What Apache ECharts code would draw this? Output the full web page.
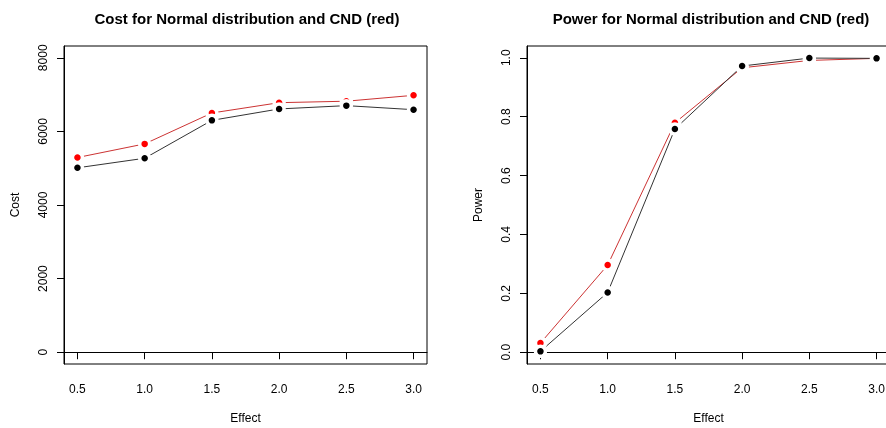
<!DOCTYPE html>
<html>
<head>
<meta charset="utf-8">
<script src="https://cdn.jsdelivr.net/npm/echarts@6/dist/echarts.min.js"></script>
<style>
html,body{margin:0;padding:0;background:#fff;}
#c{width:886px;height:428px;}
</style>
</head>
<body>
<div id="c"></div>
<script>
var effect = [0.5, 1.0, 1.5, 2.0, 2.5, 3.0];
var costNormal = [5010, 5270, 6300, 6610, 6700, 6590];
var costCND = [5290, 5660, 6500, 6780, 6820, 6980];
var powerNormal = [0.003, 0.203, 0.758, 0.972, 0.999, 0.998];
var powerCND = [0.031, 0.296, 0.779, 0.966, 0.991, 0.998];
var xTicks = [0.5, 1.0, 1.5, 2.0, 2.5, 3.0];
var costTicks = [0, 2000, 4000, 6000, 8000];
var powerTicks = [0, 0.2, 0.4, 0.6, 0.8, 1.0];

var FONT = '"Liberation Sans", Arial, sans-serif';

function pairs(ys) { return effect.map(function (x, i) { return [x, ys[i]]; }); }

function xAxisOpt(gi) {
  return {
    type: 'value', gridIndex: gi, min: 0.4, max: 3.1,
    name: 'Effect', nameLocation: 'middle', nameGap: 49,
    nameTextStyle: { fontFamily: FONT, fontSize: 12, color: '#000' },
    axisLine: { show: true, lineStyle: { color: '#000', width: 1 } },
    axisTick: { show: true, length: 7, customValues: xTicks, lineStyle: { color: '#000' } },
    axisLabel: { customValues: xTicks, margin: 20, fontFamily: FONT, fontSize: 12, color: '#000',
      formatter: function (v) { return v.toFixed(1); } },
    splitLine: { show: false }
  };
}

function yAxisOpt(gi, min, max, ticks, name, fmt) {
  return {
    type: 'value', gridIndex: gi, min: min, max: max,
    name: name, nameLocation: 'middle', nameGap: 42, nameRotate: 90,
    nameTextStyle: { fontFamily: FONT, fontSize: 12, color: '#000' },
    axisLine: { show: true, lineStyle: { color: '#000', width: 1 } },
    axisTick: { show: true, length: 7, customValues: ticks, lineStyle: { color: '#000' } },
    axisLabel: { customValues: ticks, rotate: 90, margin: 14, fontFamily: FONT, fontSize: 12, color: '#000',
      formatter: fmt },
    splitLine: { show: false }
  };
}

function lineSeries(xi, data, color, lineColor) {
  return {
    type: 'line', xAxisIndex: xi, yAxisIndex: xi, data: data,
    symbol: 'circle', symbolSize: 10,
    itemStyle: { color: color, borderColor: '#fff', borderWidth: 3.5 },
    lineStyle: { color: lineColor, width: 1 },
    animation: false
  };
}

var chart = echarts.init(document.getElementById('c'), null, { renderer: 'canvas' });
chart.setOption({
  backgroundColor: '#fff',
  animation: false,
  title: [
    { text: 'Cost for Normal distribution and CND (red)', left: 242, top: 7, textAlign: 'center',
      textStyle: { fontFamily: FONT, fontSize: 15, fontWeight: 'bold', color: '#000' } },
    { text: 'Power for Normal distribution and CND (red)', left: 706, top: 7, textAlign: 'center',
      textStyle: { fontFamily: FONT, fontSize: 15, fontWeight: 'bold', color: '#000' } }
  ],
  grid: [
    { left: 64, top: 46, width: 363, height: 318, show: true, borderColor: '#000', borderWidth: 1,
      backgroundColor: 'transparent', outerBoundsMode: 'none', containLabel: false },
    { left: 527, top: 46, width: 363, height: 318, show: true, borderColor: '#000', borderWidth: 1,
      backgroundColor: 'transparent', outerBoundsMode: 'none', containLabel: false }
  ],
  xAxis: [xAxisOpt(0), xAxisOpt(1)],
  yAxis: [
    yAxisOpt(0, -320, 8320, costTicks, 'Cost', function (v) { return String(Math.round(v)); }),
    yAxisOpt(1, -0.04, 1.04, powerTicks, 'Power', function (v) { return v.toFixed(1); })
  ],
  series: [
    lineSeries(0, pairs(costCND), '#ff0000', '#cc3333'),
    lineSeries(0, pairs(costNormal), '#000000', '#333333'),
    lineSeries(1, pairs(powerCND), '#ff0000', '#cc3333'),
    lineSeries(1, pairs(powerNormal), '#000000', '#333333')
  ]
});
</script>
</body>
</html>
